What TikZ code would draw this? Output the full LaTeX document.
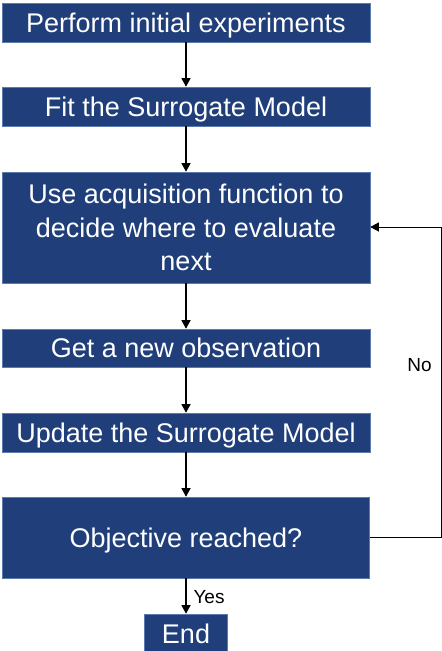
\documentclass[tikz,border=0pt]{standalone}
\usepackage{fontspec}
\setmainfont{Liberation Sans}
\usetikzlibrary{arrows.meta}
\definecolor{boxblue}{HTML}{203F7A}
\definecolor{boxedge}{HTML}{5B7BB0}
\begin{document}
\begin{tikzpicture}[x=1pt,y=-1pt,
  flowbox/.style={draw=boxedge,line width=0.6pt,fill=boxblue,text=white,align=center,
    inner sep=0pt,font=\fontsize{27}{33.5}\selectfont},
  oneline/.style={text depth=0pt},
  flowarrow/.style={draw=black,line width=1.2pt,-{Triangle[width=9pt,length=8.5pt]}},
  looparrow/.style={draw=black,line width=0.8pt,-{Triangle[width=9pt,length=8.5pt]}},
  lbl/.style={font=\fontsize{19}{22}\selectfont,text=black,inner sep=0pt}]
\useasboundingbox (0,0) rectangle (442,651);
\node[flowbox,oneline,minimum width=368pt,minimum height=39pt] (b1) at (186,22.5) {Perform initial experiments};
\node[flowbox,oneline,minimum width=368pt,minimum height=39pt] (b2) at (186,106.5) {Fit the Surrogate Model};
\node[flowbox,minimum width=368pt,minimum height=111pt] (b3) at (186,227.5) {Use acquisition function to\\decide where to evaluate\\next};
\node[flowbox,oneline,minimum width=368pt,minimum height=38pt] (b4) at (186,348) {Get a new observation};
\node[flowbox,oneline,minimum width=368pt,minimum height=39pt] (b5) at (186,432.5) {Update the Surrogate Model};
\node[flowbox,oneline,minimum width=367pt,minimum height=81pt] (b6) at (186,537.5) {Objective reached?};
\node[flowbox,oneline,minimum width=83pt,minimum height=40pt] (end) at (186,634) {End};
\draw[flowarrow] (b1.south) -- (b2.north);
\draw[flowarrow] (b2.south) -- (b3.north);
\draw[flowarrow] (b3.south) -- (b4.north);
\draw[flowarrow] (b4.south) -- (b5.north);
\draw[flowarrow] (b5.south) -- (b6.north);
\draw[flowarrow] (b6.south) -- (end.north);
\node[lbl] (yes) at (209,597) {Yes};
\coordinate (c1) at (441,537);
\coordinate (c2) at (441,227);
\draw[looparrow] (b6.east |- c1) -- (c1) -- (c2) -- (b3.east |- c2);
\node[lbl] (no) at (419.5,365) {No};
\end{tikzpicture}
\end{document}
